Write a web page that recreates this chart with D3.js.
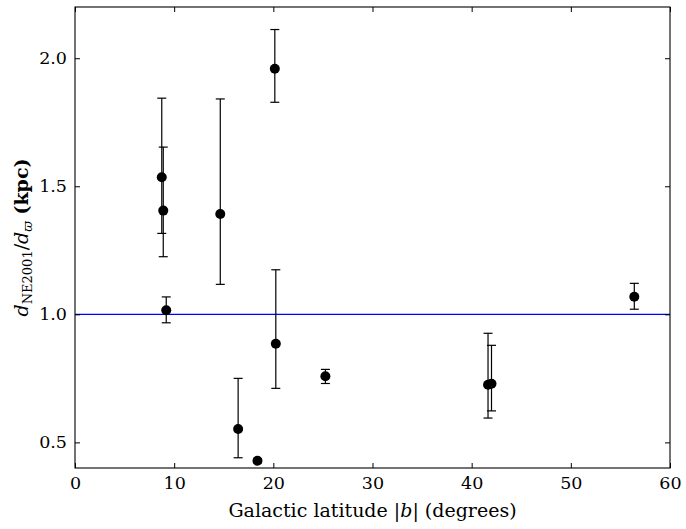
<!DOCTYPE html>
<html>
<head>
<meta charset="utf-8">
<script src="https://cdn.jsdelivr.net/npm/d3@7"></script>
<style>
  body { margin: 0; background: #fff; }
  text { font-family: "DejaVu Serif", serif; }
</style>
</head>
<body>
<svg id="chart"></svg>
<script>
// Galactic latitude |b| in degrees
const latitude = [8.75, 8.9, 9.2, 14.65, 16.45, 18.4, 20.15, 20.25, 25.25, 41.65, 42.0, 56.4];
// d_NE2001 / d_parallax
const ratio    = [1.535, 1.405, 1.016, 1.392, 0.552, 0.428, 1.959, 0.885, 0.758, 0.725, 0.729, 1.069];
// lower and upper ends of the error bars
const errLow   = [1.316, 1.225, 0.967, 1.117, 0.440, 0.420, 1.828, 0.711, 0.730, 0.595, 0.623, 1.020];
const errHigh  = [1.844, 1.653, 1.068, 1.841, 0.750, 0.436, 2.112, 1.174, 0.785, 0.926, 0.879, 1.121];

const xTicks = [0, 10, 20, 30, 40, 50, 60];
const yTicks = [0.5, 1.0, 1.5, 2.0];

const width = 686, height = 529;
const margin = { top: 7, right: 16, bottom: 61, left: 75 };
const innerW = width - margin.left - margin.right;
const innerH = height - margin.top - margin.bottom;

const svg = d3.select('#chart').attr('width', width).attr('height', height);
const g = svg.append('g').attr('transform', `translate(${margin.left},${margin.top})`);

const x = d3.scaleLinear().domain([0, 60]).range([0, innerW]);
const y = d3.scaleLinear().domain([0.4, 2.2]).range([innerH, 0]);

// reference line at ratio = 1
g.append('line')
    .attr('x1', 0).attr('x2', innerW)
    .attr('y1', y(1)).attr('y2', y(1))
    .attr('stroke', '#0000ff')
    .attr('stroke-width', 1.3);

const pts = latitude.map((b, i) => ({ b, r: ratio[i], lo: errLow[i], hi: errHigh[i] }));

// error bars
const eb = g.selectAll('.err').data(pts).enter().append('g').attr('class', 'err')
    .attr('stroke', '#000').attr('stroke-width', 1.2);
eb.append('line')
    .attr('x1', d => x(d.b)).attr('x2', d => x(d.b))
    .attr('y1', d => y(d.lo)).attr('y2', d => y(d.hi));
eb.append('line')
    .attr('x1', d => x(d.b) - 4.5).attr('x2', d => x(d.b) + 4.5)
    .attr('y1', d => y(d.lo)).attr('y2', d => y(d.lo));
eb.append('line')
    .attr('x1', d => x(d.b) - 4.5).attr('x2', d => x(d.b) + 4.5)
    .attr('y1', d => y(d.hi)).attr('y2', d => y(d.hi));

// markers
g.selectAll('.dot').data(pts).enter().append('circle')
    .attr('class', 'dot')
    .attr('cx', d => x(d.b))
    .attr('cy', d => y(d.r))
    .attr('r', 5)
    .attr('fill', '#000');

// axes with inward ticks on all sides
const tickLen = 5;
const axBottom = g.append('g').attr('transform', `translate(0,${innerH})`)
    .call(d3.axisBottom(x).tickValues(xTicks).tickFormat(d3.format('d')).tickSize(-tickLen).tickPadding(9));
const axTop = g.append('g')
    .call(d3.axisTop(x).tickValues(xTicks).tickFormat('').tickSize(-tickLen));
const axLeft = g.append('g')
    .call(d3.axisLeft(y).tickValues(yTicks).tickFormat(d3.format('.1f')).tickSize(-tickLen).tickPadding(8));
const axRight = g.append('g').attr('transform', `translate(${innerW},0)`)
    .call(d3.axisRight(y).tickValues(yTicks).tickFormat('').tickSize(-tickLen));

[axBottom, axTop, axLeft, axRight].forEach(a => {
    a.select('.domain').remove();
    a.selectAll('.tick line').attr('stroke', '#000').attr('stroke-width', 1);
    a.selectAll('text').attr('fill', '#000').style('font-size', '17.5px')
        .style('font-family', '"DejaVu Serif", serif');
});

// frame
g.append('rect')
    .attr('width', innerW).attr('height', innerH)
    .attr('fill', 'none').attr('stroke', '#000').attr('stroke-width', 1.1);

// x label
const xl = svg.append('text')
    .attr('x', margin.left + innerW / 2)
    .attr('y', 517)
    .attr('text-anchor', 'middle')
    .style('font-size', '19px')
    .attr('fill', '#000');
xl.append('tspan').text('Galactic latitude |');
xl.append('tspan').style('font-style', 'italic').text('b');
xl.append('tspan').text('| (degrees)');

// y label
const yl = svg.append('text')
    .attr('transform', `translate(28,${margin.top + innerH / 2}) rotate(-90)`)
    .attr('text-anchor', 'middle')
    .style('font-size', '19px')
    .attr('fill', '#000');
yl.append('tspan').style('font-style', 'italic').text('d');
yl.append('tspan').style('font-size', '13px').attr('dy', 4).text('NE2001');
yl.append('tspan').attr('dy', -4).text('/');
yl.append('tspan').style('font-style', 'italic').text('d');
yl.append('tspan').style('font-size', '13px').style('font-style', 'italic').attr('dy', 4).text('ϖ');
yl.append('tspan').attr('dy', -4).style('font-weight', 'bold').text(' (kpc)');
</script>
</body>
</html>
